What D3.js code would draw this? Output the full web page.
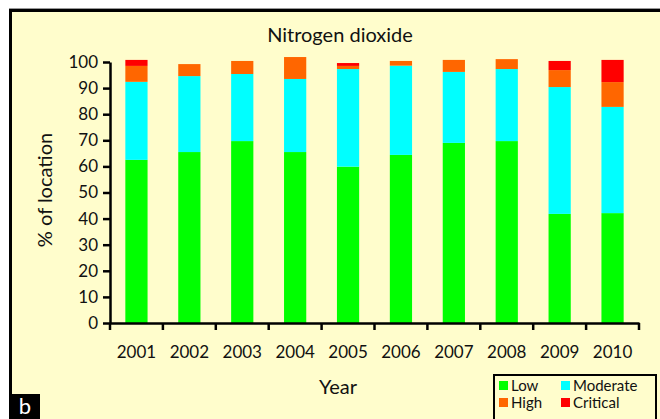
<!DOCTYPE html>
<html>
<head>
<meta charset="utf-8">
<script src="https://cdn.jsdelivr.net/npm/d3@7"></script>
<style>
  body { margin: 0; background: #fff; }
  text { font-family: Lato, "Open Sans", sans-serif; fill: #111; }
</style>
</head>
<body>
<div id="chart"></div>
<script>
var years    = ["2001","2002","2003","2004","2005","2006","2007","2008","2009","2010"];
var low      = [62.5, 65.5, 69.7, 65.5, 59.9, 64.4, 69.0, 69.7, 41.8, 42.1];
var moderate = [29.9, 29.1, 25.7, 28.0, 37.4, 34.2, 27.2, 27.6, 48.6, 40.7];
var high     = [ 6.1,  4.6,  5.0,  8.4,  1.2,  1.8,  4.6,  3.8,  6.5,  9.5];
var critical = [ 2.3,  0.0,  0.0,  0.0,  1.1,  0.0,  0.0,  0.0,  3.5,  8.5];
var yTicks   = [0,10,20,30,40,50,60,70,80,90,100];
var keys     = ["Low","Moderate","High","Critical"];

var width = 660, height = 419;

var color = d3.scaleOrdinal()
    .domain(keys)
    .range(["#00ff00","#00ffff","#ff6600","#ff0000"]);

var table = years.map(function (y, i) {
  return {year: y, Low: low[i], Moderate: moderate[i], High: high[i], Critical: critical[i]};
});
var series = d3.stack().keys(keys)(table);

var x = d3.scaleBand()
    .domain(years)
    .range([110, 639])
    .paddingInner(0.58)
    .paddingOuter(0.29);

var y = d3.scaleLinear()
    .domain([0, 100])
    .range([323, 62]);

var svg = d3.select("#chart").append("svg")
    .attr("width", width)
    .attr("height", height);

// frame
svg.append("line")
    .attr("x1", 9).attr("x2", 660).attr("y1", 8.5).attr("y2", 8.5)
    .attr("stroke", "#999").attr("stroke-width", 1);
svg.append("rect")
    .attr("x", 10.5).attr("y", 10.5)
    .attr("width", 680).attr("height", 440)
    .attr("fill", "#fffdcc")
    .attr("stroke", "#000")
    .attr("stroke-width", 3);

svg.append("text")
    .attr("x", 340).attr("y", 42)
    .attr("text-anchor", "middle")
    .style("font-size", "20px")
    .text("Nitrogen dioxide");

// bars
svg.append("g").selectAll("g")
    .data(series)
  .enter().append("g")
    .attr("fill", function (d) { return color(d.key); })
  .selectAll("rect")
    .data(function (d) { return d; })
  .enter().append("rect")
    .attr("x", function (d) { return x(d.data.year); })
    .attr("y", function (d) { return y(d[1]); })
    .attr("width", x.bandwidth())
    .attr("height", function (d) { return y(d[0]) - y(d[1]); });

// y axis
var yAxis = d3.axisLeft(y).tickValues(yTicks).tickSize(7).tickSizeOuter(0).tickPadding(5);
var gy = svg.append("g")
    .attr("transform", "translate(110,0)")
    .call(yAxis);
gy.select(".domain").attr("stroke", "#000").attr("stroke-width", 2.5);
gy.selectAll(".tick line").attr("stroke", "#000").attr("stroke-width", 2.5);
gy.selectAll(".tick text").style("font-size", "17px").attr("fill", "#111")
    .style("font-family", "Lato, sans-serif");

// x axis: labels centered, ticks at band edges
var step = x.step();
var xAxis = d3.axisBottom(x).tickSize(0).tickPadding(23).tickSizeOuter(0);
var gx = svg.append("g")
    .attr("transform", "translate(0,323)")
    .call(xAxis);
gx.select(".domain").attr("stroke", "#000").attr("stroke-width", 2.5);
gx.selectAll(".tick text").style("font-size", "17px").attr("fill", "#111")
    .style("font-family", "Lato, sans-serif");
gx.selectAll("line.edge")
    .data(years.concat(["end"]))
  .enter().append("line")
    .attr("class", "edge")
    .attr("x1", function (d, i) { return 110 + i * step; })
    .attr("x2", function (d, i) { return 110 + i * step; })
    .attr("y1", 0).attr("y2", 7)
    .attr("stroke", "#000").attr("stroke-width", 2.5);

// axis titles
svg.append("text")
    .attr("x", 338).attr("y", 394)
    .attr("text-anchor", "middle")
    .style("font-size", "20px")
    .text("Year");

svg.append("text")
    .attr("transform", "translate(52,190) rotate(-90)")
    .attr("text-anchor", "middle")
    .style("font-size", "20px")
    .text("% of location");

// legend
var legend = svg.append("g");
legend.append("rect")
    .attr("x", 494).attr("y", 375)
    .attr("width", 162).attr("height", 50)
    .attr("fill", "#fffdcc")
    .attr("stroke", "#000").attr("stroke-width", 2);
var lpos = [[499, 381], [561, 381], [499, 398], [561, 398]];
var items = legend.selectAll("g.item")
    .data(keys)
  .enter().append("g")
    .attr("class", "item")
    .attr("transform", function (d, i) { return "translate(" + lpos[i][0] + "," + lpos[i][1] + ")"; });
items.append("rect")
    .attr("width", 9).attr("height", 9)
    .attr("fill", function (d) { return color(d); });
items.append("text")
    .attr("x", 12).attr("y", 10)
    .style("font-size", "15px")
    .text(function (d) { return d; });

// panel label
svg.append("rect")
    .attr("x", 11).attr("y", 394)
    .attr("width", 29).attr("height", 30)
    .attr("fill", "#000");
svg.append("text")
    .attr("x", 25).attr("y", 414)
    .attr("text-anchor", "middle")
    .style("font-size", "22px")
    .style("fill", "#fff")
    .text("b");
</script>
</body>
</html>
